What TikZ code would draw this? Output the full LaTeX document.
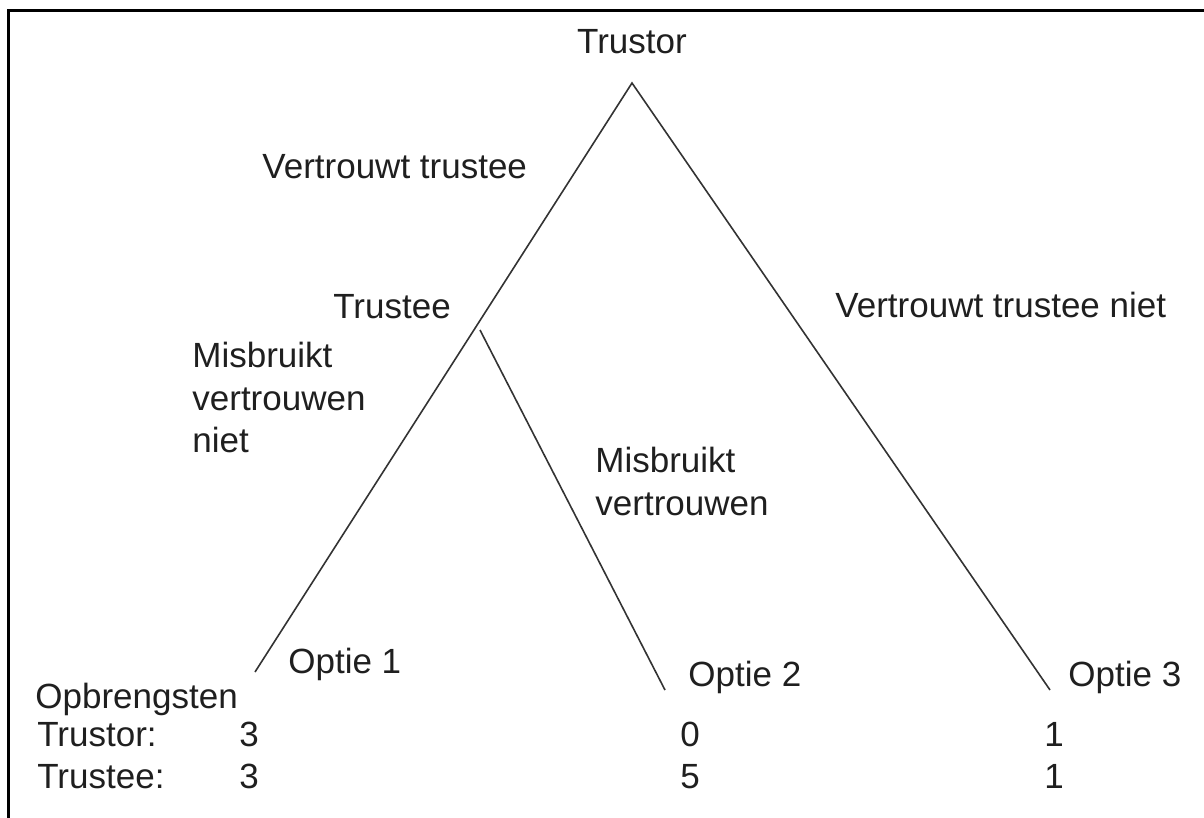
\documentclass[tikz,border=0pt]{standalone}
\usepackage{fontspec}
\setmainfont{Liberation Sans}
\begin{document}
\begin{tikzpicture}[x=0.5pt,y=-0.5pt,
  lbl/.style={inner sep=0pt,anchor=base west,text=black!88},
  num/.style={inner sep=0pt,anchor=base,text=black!88},
  branch/.style={draw=black!80,line width=0.8pt},
  frameline/.style={draw=black,line width=1.5pt}]
  \useasboundingbox (0,0) rectangle (1204,818);
  \fontsize{17.5}{21}\selectfont

  % open frame: top and left edges only
  \coordinate (fbl) at (8,818);
  \coordinate (ftl) at (8,11);
  \coordinate (ftr) at (1204,11);
  \draw[frameline] (fbl) -- (ftl) -- (ftr);

  % tree nodes
  \coordinate (root) at (632,83);
  \coordinate (leafA) at (255,672);
  \coordinate (split) at (480,330);
  \coordinate (leafB) at (665,690);
  \coordinate (leafC) at (1050,690);

  \draw[branch] (leafA) -- (root) -- (leafC);
  \draw[branch] (split) -- (leafB);

  % labels
  \node[num] (tTrustor) at (632,54) {Trustor};
  \node[lbl] (tTrust) at (262,179) {Vertrouwt trustee};
  \node[lbl] (tTrustee) at (333,318) {Trustee};
  \node[lbl] (tNiet) at (835,317) {Vertrouwt trustee niet};

  \node[lbl] (mA1) at (192,367) {Misbruikt};
  \node[lbl] (mA2) at (192,410) {vertrouwen};
  \node[lbl] (mA3) at (192,452) {niet};

  \node[lbl] (mB1) at (595,472) {Misbruikt};
  \node[lbl] (mB2) at (595,515) {vertrouwen};

  \node[lbl] (o1) at (288,673) {Optie 1};
  \node[lbl] (o2) at (688,686) {Optie 2};
  \node[lbl] (o3) at (1068,686) {Optie 3};

  % payoffs
  \node[lbl] (opb) at (35,708) {Opbrengsten};
  \node[lbl] (rTor) at (37,746) {Trustor:};
  \node[lbl] (rTee) at (37,788) {Trustee:};
  \node[num] (p1a) at (249,746) {3};
  \node[num] (p1b) at (249,788) {3};
  \node[num] (p2a) at (690,746) {0};
  \node[num] (p2b) at (690,788) {5};
  \node[num] (p3a) at (1054,746) {1};
  \node[num] (p3b) at (1054,788) {1};
\end{tikzpicture}
\end{document}
